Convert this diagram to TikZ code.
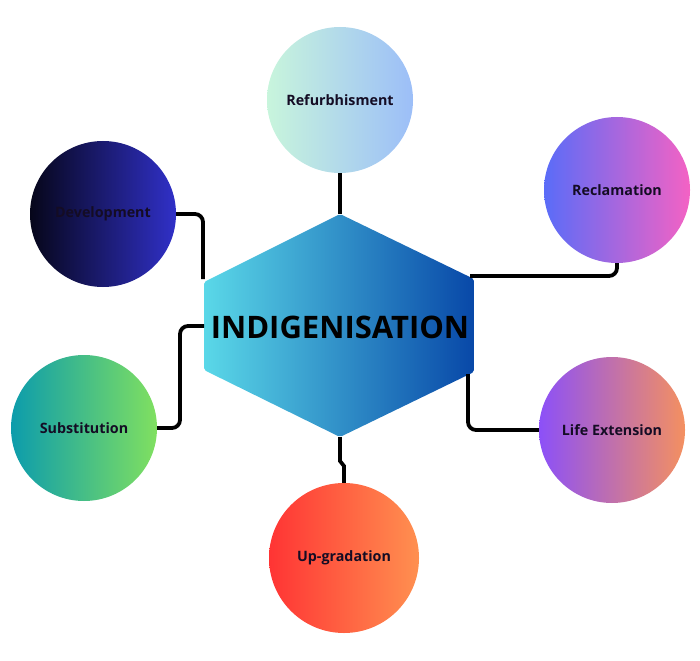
\documentclass[tikz,border=0pt]{standalone}
\usepackage{fontspec}
\setmainfont{Open Sans}
\usetikzlibrary{positioning, calc}

\definecolor{hexL}{HTML}{5AD8E8}
\definecolor{hexR}{HTML}{0848A8}
\definecolor{refL}{HTML}{C8F5DC}
\definecolor{refR}{HTML}{9CBEF8}
\definecolor{recL}{HTML}{5A6CF8}
\definecolor{recR}{HTML}{F462C4}
\definecolor{devL}{HTML}{06061A}
\definecolor{devR}{HTML}{3030C8}
\definecolor{subL}{HTML}{0C9CAC}
\definecolor{subR}{HTML}{80E060}
\definecolor{lifL}{HTML}{8C50F8}
\definecolor{lifR}{HTML}{F49060}
\definecolor{upgL}{HTML}{FF3434}
\definecolor{upgR}{HTML}{FF9050}
\definecolor{labelc}{HTML}{140C24}

\begin{document}
\begin{tikzpicture}[
  x=1pt, y=-1pt,
  bubble/.style={circle, inner sep=0pt, minimum size=146pt,
                 font=\bfseries\fontsize{14.3}{16}\selectfont, text=labelc},
  link/.style={line width=3.8pt, black, rounded corners=8pt},
]
\useasboundingbox (0,0) rectangle (700,660);

% ------------------- central hexagon -------------------
\coordinate (hT)  at (340,214);
\coordinate (hUR) at (474,279);
\coordinate (hLR) at (474,372);
\coordinate (hB)  at (340,437);
\coordinate (hLL) at (204,370);
\coordinate (hUL) at (204,282);
\shade[left color=hexL, right color=hexR, rounded corners=2pt]
  (hT) -- (hUR) -- (hLR) -- (hB) -- (hLL) -- (hUL) -- cycle;
\node[font=\bfseries\fontsize{31}{34}\selectfont, text=black] (hex) at (340,327)
  {INDIGENISATION};

% ------------------- outer bubbles -------------------
\node[bubble, left color=refL, right color=refR] (refurb) at (340,100) {Refurbhisment};
\node[bubble, left color=recL, right color=recR] (reclam) at (617,190) {Reclamation};
\node[bubble, left color=devL, right color=devR] (devel)  at (103,214) {Development};
\node[bubble, left color=subL, right color=subR] (subst)  at (84,428)  {Substitution};
\node[bubble, left color=lifL, right color=lifR] (lifeext) at (612,430) {Life Extension};
\node[bubble, left color=upgL, right color=upgR, minimum size=150pt] (upgrad) at (344,558) {Up-gradation};

% ------------------- connectors -------------------
\coordinate (devEnd)  at (203,279);
\coordinate (recEnd)  at (470,276);
\coordinate (subTurn) at (180,428);
\coordinate (subEnd)  at (204,326);
\coordinate (lifeSt)  at (468,374);
\coordinate (upgJog)  at (340,461);

\draw[link] (refurb.south) -- (hT);
\draw[link] (devel.east) -| (devEnd);
\draw[link] (reclam.south) |- (recEnd);
\draw[link] (subst.east) -- (subTurn) |- (subEnd);
\draw[link] (lifeSt) |- (lifeext.west);
\draw[link, rounded corners=0pt] (hB) -- (upgJog) -- ++(4,5) -- (upgrad.north);

\end{tikzpicture}
\end{document}
